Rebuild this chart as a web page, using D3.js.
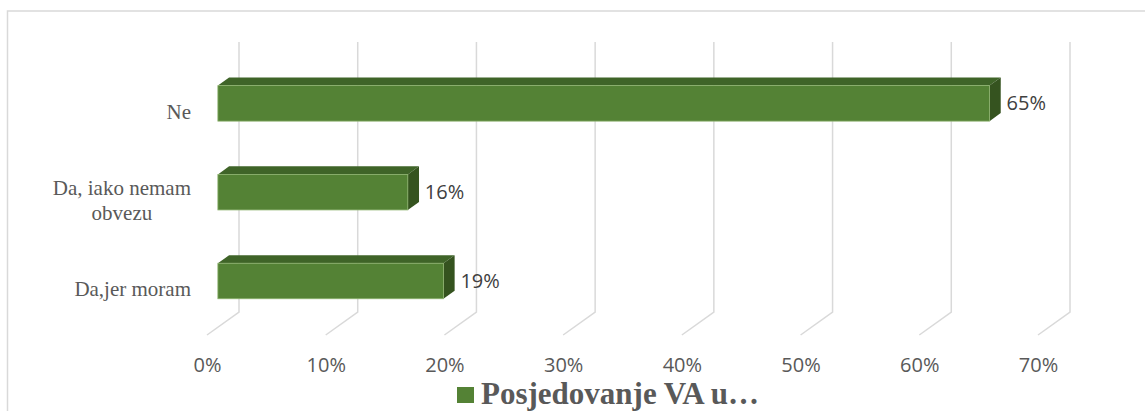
<!DOCTYPE html>
<html>
<head>
<meta charset="utf-8">
<script src="https://cdn.jsdelivr.net/npm/d3@7"></script>
<style>
  body { margin: 0; background: #fff; }
</style>
</head>
<body>
<div id="vis"></div>
<script>
// data
const categories = ["Ne", "Da, iako nemam obvezu", "Da,jer moram"];
const labelLines = [["Ne"], ["Da, iako nemam", "obvezu"], ["Da,jer moram"]];
const values = [0.65, 0.16, 0.19];
const ticks = [0, 0.1, 0.2, 0.3, 0.4, 0.5, 0.6, 0.7];
const seriesName = "Posjedovanje VA u\u2026";

const WIDTH = 1145, HEIGHT = 411;
const DEPTH = { dx: -32, dy: 23 };   // back wall -> front edge of the floor
const BAR_BACK = 0.31, BAR_FRONT = 0.66; // bar depth as fraction of DEPTH

const svg = d3.select("#vis").append("svg")
    .attr("width", WIDTH)
    .attr("height", HEIGHT);

// chart border
svg.append("rect")
    .attr("x", 7.5).attr("y", 11)
    .attr("width", 1160).attr("height", 420)
    .attr("fill", "none")
    .attr("stroke", "#d9d9d9")
    .attr("stroke-width", 1.5);

// scales on the back wall
const x = d3.scaleLinear().domain([0, 0.7]).range([239, 1070]);
const y = d3.scaleBand().domain(categories)
    .range([42, 312])
    .paddingInner(0.6)
    .paddingOuter(0.32);
const wallBottom = 312;

// move a back-wall point towards the viewer
const px = (xv, f) => xv + f * DEPTH.dx;
const py = (yv, f) => yv + f * DEPTH.dy;

// gridlines: back wall + bend on the floor
const grid = svg.append("g").attr("stroke", "#d9d9d9")
    .attr("stroke-width", 1.5).attr("fill", "none");
grid.selectAll("path")
    .data(ticks)
    .enter()
    .append("path")
      .attr("d", d => `M${x(d)},42 L${x(d)},${wallBottom} L${px(x(d), 1)},${py(wallBottom, 1)}`);

// tick labels at the front edge of the floor
const xFront = d3.scaleLinear().domain(x.domain()).range(x.range().map(v => px(v, 1)));
const axis = svg.append("g")
    .attr("transform", `translate(0,${py(wallBottom, 1) + 20})`)
    .call(d3.axisBottom(xFront).tickValues(ticks).tickFormat(d3.format(".0%")).tickSize(0));
axis.select(".domain").remove();
axis.selectAll("text")
    .attr("font-family", "'Open Sans', sans-serif")
    .attr("font-size", 20)
    .attr("fill", "#595959");

// 3D bars
const bars = svg.selectAll(".bar")
    .data(categories)
    .enter()
    .append("g")
      .attr("class", "bar");

bars.each(function (c, i) {
  const g = d3.select(this);
  const v = values[i];
  const x0b = px(x(0), BAR_BACK), x1b = px(x(v), BAR_BACK);
  const x0f = px(x(0), BAR_FRONT), x1f = px(x(v), BAR_FRONT);
  const ytb = py(y(c), BAR_BACK), ybb = py(y(c) + y.bandwidth(), BAR_BACK);
  const ytf = py(y(c), BAR_FRONT), ybf = py(y(c) + y.bandwidth(), BAR_FRONT);

  // top face
  g.append("path")
    .attr("d", `M${x0f},${ytf} L${x0b},${ytb} L${x1b},${ytb} L${x1f},${ytf} Z`)
    .attr("fill", "#3f6428");
  // right side
  g.append("path")
    .attr("d", `M${x1f},${ytf} L${x1b},${ytb} L${x1b},${ybb} L${x1f},${ybf} Z`)
    .attr("fill", "#35531f");
  // front face
  g.append("rect")
    .attr("x", x0f).attr("y", ytf)
    .attr("width", x1f - x0f).attr("height", ybf - ytf)
    .attr("fill", "#548235")
    .attr("stroke", "#8db26e")
    .attr("stroke-width", 0.8);

  // value label
  g.append("text")
    .attr("x", x1f + 17)
    .attr("y", (ytf + ybf) / 2)
    .attr("dy", "0.35em")
    .attr("font-family", "'Open Sans', sans-serif")
    .attr("font-size", 20)
    .attr("fill", "#404040")
    .text(d3.format(".0%")(v));
});

// category labels, centred on the band at the front plane
const labelRight = 191;
const lineH = 25;
categories.forEach((c, i) => {
  const lines = labelLines[i];
  const cy = py(y(c) + y.bandwidth() / 2, 1);
  const t = svg.append("text")
      .attr("font-family", "'Liberation Serif', 'Times New Roman', serif")
      .attr("font-size", 21)
      .attr("fill", "#595959");
  const spans = lines.map((ln, k) => t.append("tspan")
      .attr("y", cy + (k - (lines.length - 1) / 2) * lineH)
      .attr("dy", "0.35em")
      .text(ln));
  const maxW = d3.max(spans, s => s.node().getComputedTextLength());
  spans.forEach(s => s.attr("x", labelRight - maxW / 2).attr("text-anchor", "middle"));
});

// legend
const legend = svg.append("g");
legend.append("rect")
    .attr("x", 457).attr("y", 387)
    .attr("width", 17).attr("height", 16)
    .attr("fill", "#548235");
legend.append("text")
    .attr("x", 481).attr("y", 404)
    .attr("font-family", "'Liberation Serif', 'Times New Roman', serif")
    .attr("font-size", 31)
    .attr("font-weight", "bold")
    .attr("fill", "#595959")
    .text(seriesName);
</script>
</body>
</html>
